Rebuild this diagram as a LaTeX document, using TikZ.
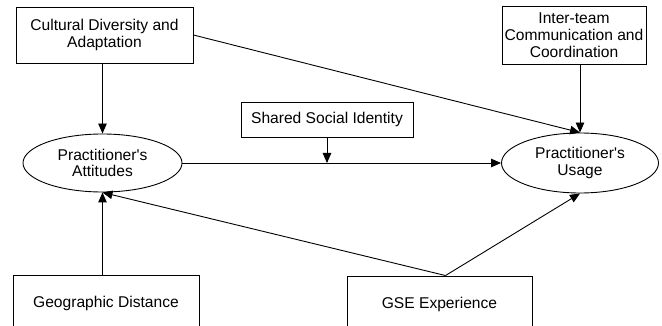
\documentclass[tikz,border=0pt]{standalone}
\usepackage{fontspec}
\setmainfont{Liberation Sans}
\usetikzlibrary{arrows.meta,shapes.geometric}

\begin{document}
\begin{tikzpicture}[x=1pt, y=-1pt, line width=0.9pt,
  factor/.style={draw, rectangle, inner sep=0pt, align=center, font=\fontsize{15.6}{16.8}\selectfont},
  outcome/.style={draw, ellipse, inner sep=0pt, align=center, font=\fontsize{15.6}{16.8}\selectfont},
  link/.style={-{Triangle[length=10pt,width=8.5pt]}}]
\clip (0,0) rectangle (662,326);
%%%%% Factors %%%%%
\node[factor, minimum width=177pt, minimum height=56pt] (cult) at (104.5,35) {Cultural Diversity and\\Adaptation};
\node[factor, minimum width=144pt, minimum height=58pt] (inter) at (574,35) {Inter-team\\Communication and\\Coordination};
\node[factor, minimum width=172pt, minimum height=35pt] (shared) at (327,119.5) {Shared Social Identity};
\node[factor, minimum width=186pt, minimum height=56pt] (geo) at (106,303) {Geographic Distance};
\node[factor, minimum width=185pt, minimum height=56pt] (gse) at (439.5,304) {GSE Experience};
%%%%% Outcomes %%%%%
\node[outcome, minimum width=159pt, minimum height=58pt] (att) at (102.5,163) {Practitioner\textquotesingle s\\Attitudes};
\node[outcome, minimum width=157pt, minimum height=60pt] (use) at (580,163) {Practitioner\textquotesingle s\\Usage};
%%%%% Links %%%%%
\draw[link] (cult.south -| att.north) -- (att.north);
\draw[link] (cult.east) -- (use.north);
\draw[link] (inter.south -| use.north) -- (use.north);
\draw[link] (att.east) -- (use.west);
\coordinate (join) at (shared.south |- att.east);
\draw[link] (shared.south) -- (join);
\draw[link] (geo.north -| att.south) -- (att.south);
\coordinate (gsetop) at ([xshift=6pt]gse.north);
\draw[link] (gsetop) -- (att.south);
\draw[link] (gsetop) -- (use.south);
\end{tikzpicture}
\end{document}
